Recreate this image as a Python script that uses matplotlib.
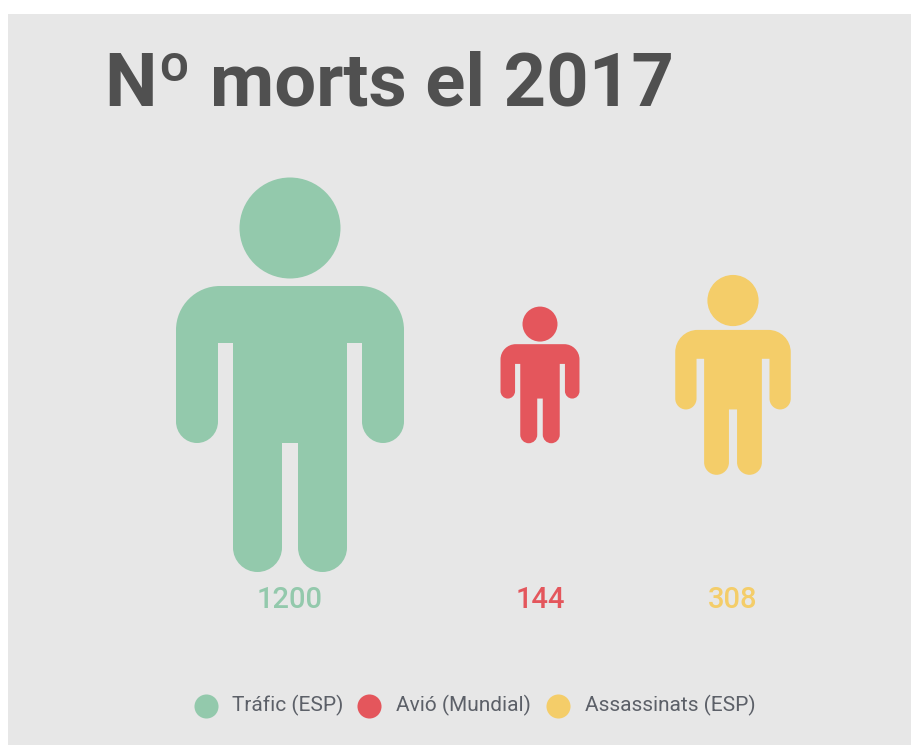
import numpy as np
import matplotlib
matplotlib.use("Agg")
import matplotlib.pyplot as plt
from matplotlib.path import Path
from matplotlib.patches import PathPatch, Circle, Rectangle

categories = ["Tráfic (ESP)", "Avió (Mundial)", "Assassinats (ESP)"]
values = [1200, 144, 308]
colors = ["#93C9AC", "#E4565C", "#F4CD69"]

title = "Nº morts el 2017"

centers = [290, 540, 733]  # posicio x de cada figura
center_y = 375
legend_dots = [206, 369, 558]
legend_text = [232, 396, 585]

K = 0.552  # cantonades rodones amb bezier


def person_path(cx, cy, s):
    # silueta sense el cap, s = escala respecte la figura gran
    v, c = [], []

    def mv(x, y):
        v.append((x, y)); c.append(Path.MOVETO)

    def ln(x, y):
        v.append((x, y)); c.append(Path.LINETO)

    def cv(kx, ky, x, y):
        x0, y0 = v[-1]
        v.extend([(x0 + K * (kx - x0), y0 + K * (ky - y0)),
                  (x + K * (kx - x), y + K * (ky - y)), (x, y)])
        c.extend([Path.CURVE4] * 3)

    top, pit, arm, leg = -89, -32, 46.5, 172.5
    mv(-70, top)
    ln(70, top)
    cv(114, top, 114, top + 44)
    ln(114, arm)
    cv(114, 68, 93, 68)
    cv(72, 68, 72, arm)
    ln(72, pit)
    ln(57, pit)
    ln(57, leg)
    cv(57, 197, 32.5, 197)
    cv(8, 197, 8, leg)
    ln(8, 68)
    ln(-8, 68)
    ln(-8, leg)
    cv(-8, 197, -32.5, 197)
    cv(-57, 197, -57, leg)
    ln(-57, pit)
    ln(-72, pit)
    ln(-72, arm)
    cv(-72, 68, -93, 68)
    cv(-114, 68, -114, arm)
    ln(-114, top + 44)
    cv(-114, top, -70, top)
    v.append((-70, top)); c.append(Path.CLOSEPOLY)
    v = np.array(v, dtype=float) * s + [cx, cy]
    return Path(v, c)


plt.rcParams["font.family"] = ["Roboto", "DejaVu Sans"]

fig = plt.figure(figsize=(9.12, 7.45), dpi=100, facecolor="white")
ax = fig.add_axes([0, 0, 1, 1])
ax.set_xlim(0, 912)
ax.set_ylim(745, 0)
ax.axis("off")

# fons gris fins a la vora dreta i inferior
ax.add_patch(Rectangle((8, 14), 904, 731, facecolor="#E7E7E7", edgecolor="none"))

ax.text(105, 105, title, fontsize=53.5, fontweight="bold", color="#505050",
        ha="left", va="baseline")

# area proporcional al valor
for cat, val, col, cx in zip(categories, values, colors, centers):
    s = np.sqrt(val / max(values))
    ax.add_patch(PathPatch(person_path(cx, center_y, s), facecolor=col, edgecolor="none"))
    ax.add_patch(Circle((cx, center_y - 147 * s), 50.5 * s, facecolor=col, edgecolor="none"))
    ax.text(cx, 600, str(val), fontsize=21, fontweight="medium", color=col,
            ha="center", va="center")

for cat, col, dx, tx in zip(categories, colors, legend_dots, legend_text):
    ax.scatter([dx], [705.5], s=300, color=col, linewidths=0)
    ax.text(tx, 705, cat, fontsize=15, color="#5C6068", ha="left", va="center")

fig.savefig("out.png", dpi=100, facecolor="white")
